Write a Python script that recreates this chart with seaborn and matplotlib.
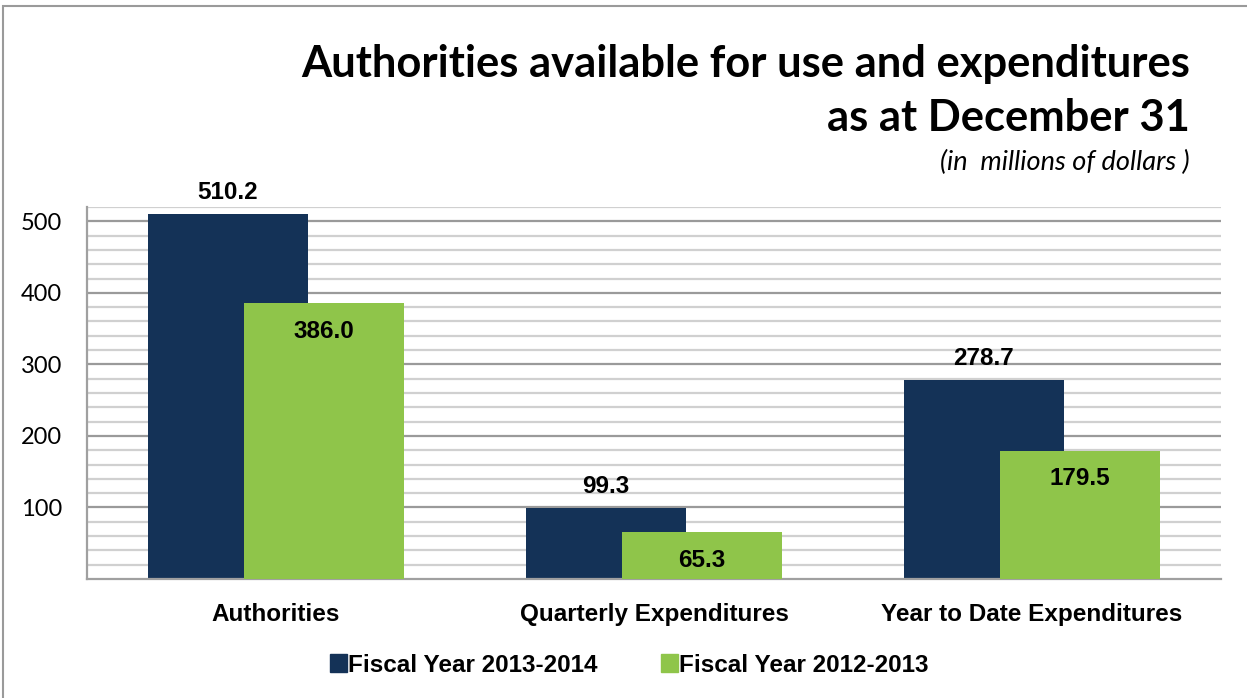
import numpy as np
import pandas as pd
import matplotlib
matplotlib.use("Agg")
import matplotlib.pyplot as plt
import seaborn as sns
from matplotlib.patches import Rectangle

categories = ["Authorities", "Quarterly Expenditures", "Year to Date Expenditures"]
fy_2013_2014 = [510.2, 99.3, 278.7]
fy_2012_2013 = [386.0, 65.3, 179.5]
series_names = ["Fiscal Year 2013-2014", "Fiscal Year 2012-2013"]
colors = ["#143257", "#8fc54a"]
ytick_vals = [100, 200, 300, 400, 500]

sns.set_theme(style="white")
plt.rcParams['font.family'] = ['Liberation Sans', 'DejaVu Sans']
plt.rcParams['text.color'] = 'black'
plt.rcParams['xtick.color'] = 'black'
plt.rcParams['ytick.color'] = 'black'

fig = plt.figure(figsize=(12.47, 6.98), dpi=100)
ax = fig.add_axes([87/1247, 1-579/698, (1221-87)/1247, (579-207)/698])

idx = np.arange(len(categories))
offset = 0.127
width = 0.423
df1 = pd.DataFrame({"pos": idx - offset, "val": fy_2013_2014})
df2 = pd.DataFrame({"pos": idx + offset, "val": fy_2012_2013})

# gridlines
for v in np.arange(20, 521, 20):
    major = (v % 100 == 0) and v <= 500
    ax.axhline(v, color="#9a9a9a" if major else "#d0d0d0", lw=1.6, zorder=0)

sns.barplot(data=df1, x="pos", y="val", native_scale=True, width=width,
            color=colors[0], saturation=1, ax=ax, zorder=2, linewidth=0)
sns.barplot(data=df2, x="pos", y="val", native_scale=True, width=width,
            color=colors[1], saturation=1, ax=ax, zorder=3, linewidth=0)
if ax.get_legend() is not None:
    ax.get_legend().remove()

ax.set_xlim(-0.5, 2.5)
ax.set_ylim(0, 520)
ax.set_xticks(idx)
ax.set_xticklabels(categories, fontsize=17.5, fontweight="bold")
ax.set_yticks(ytick_vals)
ax.set_yticklabels([str(v) for v in ytick_vals], fontsize=17, family=["Lato", "DejaVu Sans"])
ax.tick_params(axis="x", length=0, pad=17)
ax.tick_params(axis="y", length=0, pad=18)
ax.set_xlabel("")
ax.set_ylabel("")
for s in ["top", "right"]:
    ax.spines[s].set_visible(False)
for s in ["left", "bottom"]:
    ax.spines[s].set_color("#a0a0a0")
    ax.spines[s].set_linewidth(1.6)

for p, v in zip(idx - offset, fy_2013_2014):
    ax.annotate(f"{v:.1f}", (p, v), xytext=(0, 7), textcoords="offset points",
                ha="center", va="bottom", fontsize=17.5, fontweight="bold", color="black", zorder=5)
for p, v in zip(idx + offset, fy_2012_2013):
    ax.annotate(f"{v:.1f}", (p, v), xytext=(0, -12), textcoords="offset points",
                ha="center", va="top", fontsize=17.5, fontweight="bold", color="black", zorder=5)

# Title
fig.text(1190/1247, 1-77/698, "Authorities available for use and expenditures", ha="right",
         va="baseline", fontsize=31.3, fontweight="bold", color="black", family=["Lato", "DejaVu Sans"])
fig.text(1190/1247, 1-131/698, "as at December 31", ha="right",
         va="baseline", fontsize=31.3, fontweight="bold", color="black", family=["Lato", "DejaVu Sans"])
fig.text(1190/1247, 1-170/698, "(in  millions of dollars )", ha="right",
         va="baseline", fontsize=19.5, style="italic", color="black", family=["Lato", "DejaVu Sans"])

# legend
handles = [Rectangle((0, 0), 1, 1, color=c) for c in colors]
leg = fig.legend(handles, series_names, loc="center", bbox_to_anchor=(629/1247, 1-665/698),
                 ncol=2, frameon=False, prop={"weight": "bold", "size": 17.5},
                 handlelength=0.7, handleheight=0.7, handletextpad=0.05, columnspacing=2.6)

# figure border
fig.patches.append(Rectangle((3/1247, -0.02), 1.1, 1-6/698+0.02, transform=fig.transFigure,
                             fill=False, edgecolor="#9a9a9a", lw=1.5, zorder=0))

fig.savefig("out.png", dpi=100)
